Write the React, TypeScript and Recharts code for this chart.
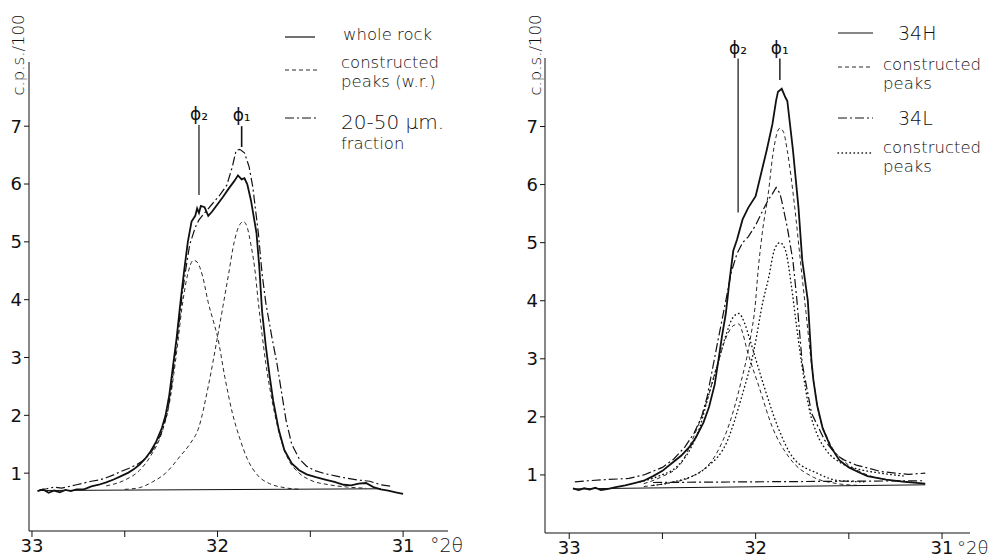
import { LineChart, Line, XAxis, YAxis, ReferenceLine } from 'recharts'

type Pt = [number, number]

// ---- left panel: whole rock / 20-50 µm fraction (°2θ, c.p.s./100)
const wholeRock: Pt[] = [
  [32.97, 0.69], [32.94, 0.72], [32.91, 0.66], [32.88, 0.7], [32.85, 0.67], [32.82, 0.71],
  [32.79, 0.69], [32.76, 0.72], [32.72, 0.72], [32.68, 0.77], [32.64, 0.8], [32.6, 0.84],
  [32.56, 0.89], [32.52, 0.95], [32.48, 1.01], [32.45, 1.07], [32.42, 1.15], [32.39, 1.25],
  [32.36, 1.38], [32.33, 1.55], [32.3, 1.78], [32.28, 2.0], [32.26, 2.35], [32.24, 2.85],
  [32.22, 3.35], [32.2, 3.95], [32.18, 4.5], [32.16, 5.0], [32.14, 5.35], [32.12, 5.45],
  [32.11, 5.58], [32.1, 5.5], [32.09, 5.62], [32.07, 5.6], [32.05, 5.45], [32.03, 5.52],
  [32.0, 5.65], [31.97, 5.78], [31.94, 5.92], [31.91, 6.05], [31.89, 6.15], [31.87, 6.08],
  [31.855, 6.1], [31.84, 6.0], [31.82, 5.72], [31.79, 5.15], [31.775, 4.57], [31.76, 3.8],
  [31.74, 3.2], [31.72, 2.7], [31.7, 2.25], [31.67, 1.75], [31.64, 1.4], [31.6, 1.17],
  [31.56, 1.05], [31.52, 0.98], [31.47, 0.93], [31.42, 0.89], [31.37, 0.85], [31.32, 0.8],
  [31.28, 0.79], [31.24, 0.82], [31.2, 0.83], [31.16, 0.76], [31.12, 0.72], [31.08, 0.7],
  [31.04, 0.67], [31.0, 0.64],
]
const fraction2050: Pt[] = [
  [32.96, 0.71], [32.92, 0.73], [32.88, 0.76], [32.84, 0.74], [32.8, 0.77], [32.76, 0.8],
  [32.72, 0.83], [32.68, 0.86], [32.64, 0.88], [32.6, 0.92], [32.56, 0.97], [32.52, 1.03],
  [32.48, 1.08], [32.44, 1.14], [32.4, 1.22], [32.36, 1.35], [32.33, 1.5], [32.3, 1.72],
  [32.27, 2.05], [32.25, 2.45], [32.23, 3.0], [32.21, 3.5], [32.19, 4.1], [32.17, 4.55],
  [32.15, 4.95], [32.12, 5.25], [32.1, 5.38], [32.07, 5.5], [32.03, 5.65], [31.99, 5.8],
  [31.95, 5.98], [31.92, 6.3], [31.9, 6.58], [31.88, 6.6], [31.855, 6.54], [31.83, 6.3],
  [31.81, 5.95], [31.78, 5.15], [31.76, 4.45], [31.74, 3.95], [31.71, 3.4], [31.68, 2.9],
  [31.65, 2.3], [31.63, 1.9], [31.6, 1.5], [31.56, 1.25], [31.52, 1.12], [31.48, 1.05],
  [31.42, 0.99], [31.36, 0.95], [31.3, 0.91], [31.24, 0.88], [31.18, 0.86], [31.12, 0.8],
  [31.06, 0.77],
]
const wrPhi2: Pt[] = [
  [32.6, 0.78], [32.5, 0.88], [32.42, 1.05], [32.36, 1.3], [32.3, 1.7], [32.26, 2.2],
  [32.22, 3.1], [32.19, 3.9], [32.16, 4.45], [32.13, 4.68], [32.11, 4.65], [32.08, 4.4],
  [32.05, 3.95], [32.02, 3.6], [32.0, 3.36], [31.96, 2.65], [31.92, 2.04], [31.88, 1.6],
  [31.84, 1.25], [31.78, 0.95], [31.72, 0.82], [31.64, 0.75], [31.55, 0.72],
]
const wrPhi1: Pt[] = [
  [32.5, 0.72], [32.42, 0.75], [32.35, 0.85], [32.28, 1.0], [32.2, 1.3], [32.15, 1.5],
  [32.1, 1.8], [32.05, 2.5], [32.0, 3.36], [31.97, 3.9], [31.94, 4.45], [31.91, 5.0],
  [31.88, 5.3], [31.86, 5.35], [31.84, 5.25], [31.82, 4.95], [31.8, 4.55], [31.78, 3.95],
  [31.76, 3.4], [31.74, 2.9], [31.72, 2.5], [31.69, 2.0], [31.66, 1.6], [31.62, 1.25],
  [31.56, 1.0], [31.5, 0.88], [31.4, 0.8], [31.3, 0.76], [31.2, 0.74],
]
const wrBase: Pt[] = [[32.97, 0.7], [31.12, 0.73]]

// ---- right panel: 34H / 34L
const s34H: Pt[] = [
  [32.98, 0.77], [32.95, 0.74], [32.92, 0.77], [32.89, 0.75], [32.86, 0.78], [32.83, 0.74],
  [32.79, 0.76], [32.75, 0.79], [32.7, 0.82], [32.65, 0.86], [32.6, 0.9], [32.55, 0.98],
  [32.5, 1.07], [32.45, 1.2], [32.4, 1.33], [32.35, 1.5], [32.32, 1.65], [32.28, 1.9],
  [32.25, 2.17], [32.22, 2.55], [32.2, 2.97], [32.18, 3.4], [32.16, 3.78], [32.14, 4.35],
  [32.12, 4.86], [32.1, 5.05], [32.07, 5.4], [32.04, 5.6], [32.0, 5.8], [31.97, 6.2],
  [31.94, 6.6], [31.91, 7.04], [31.89, 7.45], [31.88, 7.6], [31.86, 7.65], [31.84, 7.5],
  [31.83, 7.44], [31.8, 6.6], [31.77, 5.6], [31.75, 4.7], [31.72, 4.0], [31.7, 2.95],
  [31.69, 2.63], [31.67, 2.2], [31.64, 1.8], [31.6, 1.5], [31.55, 1.25], [31.5, 1.13],
  [31.45, 1.05], [31.4, 0.98], [31.3, 0.92], [31.2, 0.88], [31.09, 0.85],
]
const s34L: Pt[] = [
  [32.97, 0.88], [32.9, 0.9], [32.8, 0.92], [32.68, 0.94], [32.6, 1.0], [32.5, 1.13],
  [32.44, 1.27], [32.38, 1.48], [32.33, 1.72], [32.29, 2.0], [32.26, 2.35], [32.23, 2.85],
  [32.2, 3.35], [32.16, 4.0], [32.13, 4.5], [32.1, 4.81], [32.07, 5.0], [32.04, 5.1],
  [32.0, 5.3], [31.97, 5.5], [31.93, 5.75], [31.91, 5.84], [31.89, 5.95], [31.87, 5.85],
  [31.86, 5.72], [31.83, 5.26], [31.8, 4.69], [31.78, 4.06], [31.75, 2.92], [31.7, 2.06],
  [31.63, 1.6], [31.57, 1.35], [31.52, 1.25], [31.46, 1.17], [31.4, 1.12], [31.33, 1.06],
  [31.25, 1.03], [31.18, 1.01], [31.09, 1.03],
]
const h34Phi1: Pt[] = [
  [32.6, 0.8], [32.47, 0.86], [32.35, 0.96], [32.21, 1.37], [32.14, 1.89], [32.08, 2.58],
  [32.03, 3.32], [32.0, 4.0], [31.99, 4.4], [31.965, 5.15], [31.93, 5.9], [31.91, 6.46],
  [31.87, 6.97], [31.85, 6.9], [31.83, 6.58], [31.79, 5.6], [31.76, 4.69], [31.73, 3.8],
  [31.7, 2.9], [31.67, 2.2], [31.61, 1.6], [31.52, 1.22], [31.43, 1.04], [31.3, 0.92],
  [31.16, 0.88],
]
const h34Phi2: Pt[] = [
  [32.6, 0.85], [32.51, 0.96], [32.4, 1.2], [32.34, 1.6], [32.26, 2.29], [32.21, 2.85],
  [32.15, 3.43], [32.12, 3.57], [32.09, 3.6], [32.07, 3.45], [32.05, 3.2], [31.98, 2.5],
  [31.91, 1.82], [31.82, 1.3], [31.69, 0.96], [31.58, 0.86], [31.45, 0.82],
]
const l34Phi1: Pt[] = [
  [32.55, 0.82], [32.44, 0.88], [32.26, 1.14], [32.15, 1.6], [32.08, 2.29], [32.01, 3.14],
  [31.96, 4.0], [31.93, 4.4], [31.9, 4.87], [31.87, 5.0], [31.84, 4.87], [31.81, 4.3],
  [31.78, 3.55], [31.75, 2.85], [31.71, 2.1], [31.67, 1.7], [31.62, 1.42], [31.55, 1.22],
  [31.45, 1.1], [31.35, 1.04], [31.2, 0.98],
]
const l34Phi2: Pt[] = [
  [32.62, 0.88], [32.52, 0.98], [32.42, 1.15], [32.35, 1.45], [32.3, 1.82], [32.25, 2.4],
  [32.2, 2.95], [32.16, 3.4], [32.12, 3.72], [32.09, 3.78], [32.06, 3.62], [32.03, 3.32],
  [31.96, 2.58], [31.88, 1.82], [31.8, 1.3], [31.67, 1.03], [31.55, 0.9], [31.4, 0.88],
]
const base34H: Pt[] = [[32.98, 0.76], [31.09, 0.83]]
const base34L: Pt[] = [[32.55, 0.87], [31.1, 0.9]]

const xTicks = [33, 32.5, 32, 31.5, 31]
const yTicks = [1, 2, 3, 4, 5, 6, 7]

const INK = '#111'
const FONT = '"DejaVu Sans", sans-serif'
const SOLID = { stroke: INK, strokeWidth: 1.8 }
const DASH = { stroke: INK, strokeWidth: 0.9, strokeDasharray: '4 3' }
const DASHDOT = { stroke: INK, strokeWidth: 1.2, strokeDasharray: '9 3 2 3' }
const DOTTED = { stroke: INK, strokeWidth: 1.4, strokeDasharray: '0.5 3.5', strokeLinecap: 'round' as const }
const THIN = { stroke: INK, strokeWidth: 1 }

const pts = (a: Pt[]) => a.map(([x, y]) => ({ x, y }))
const xFmt = (v: number) => (Number.isInteger(v) ? String(v) : '')
const tickStyle = { fontSize: 18, fill: INK, fontFamily: FONT }

function phiLabel(sub: string) {
  return { value: 'ϕ' + sub, position: 'top' as const, offset: 5, fill: INK, fontSize: 17, fontFamily: FONT }
}

function line(data: Pt[], style: any, key: string, type: 'linear' | 'monotone' = 'linear') {
  return (
    <Line key={key} data={pts(data)} dataKey="y" type={type} dot={false} activeDot={false}
      isAnimationActive={false} {...style} />
  )
}

export default function App() {
  return (
    <div style={{ position: 'absolute', left: 0, top: 0, width: 990, height: 559, background: '#fff', fontFamily: FONT }}>
      <div style={{ position: 'absolute', left: 0, top: 0 }}>
        <LineChart width={460} height={559} margin={{ top: 62, right: 12, bottom: 0, left: 0 }}>
          <XAxis dataKey="x" type="number" domain={[30.758, 33.016]} reversed allowDataOverflow
            ticks={xTicks} tickFormatter={xFmt} height={28} tickSize={6} stroke={INK}
            tick={tickStyle} interval={0} />
          <YAxis type="number" domain={[0, 8.11]} allowDataOverflow ticks={yTicks} width={29}
            tickSize={5} stroke={INK} tick={tickStyle} interval={0} />
          {line(wrBase, THIN, 'base')}
          {line(wrPhi2, DASH, 'p2', 'monotone')}
          {line(wrPhi1, DASH, 'p1', 'monotone')}
          {line(fraction2050, DASHDOT, 'frac')}
          {line(wholeRock, SOLID, 'wr')}
          <ReferenceLine segment={[{ x: 32.1, y: 7.02 }, { x: 32.1, y: 5.81 }]} stroke={INK}
            strokeWidth={1.2} label={phiLabel('₂')} />
          <ReferenceLine segment={[{ x: 31.87, y: 7.0 }, { x: 31.87, y: 6.64 }]} stroke={INK}
            strokeWidth={1.6} label={phiLabel('₁')} />
        </LineChart>
      </div>
      <div style={{ position: 'absolute', left: 500, top: 0 }}>
        <LineChart width={490} height={559} margin={{ top: 58, right: 20, bottom: 0, left: 0 }}>
          <XAxis dataKey="x" type="number" domain={[30.85, 33.13]} reversed allowDataOverflow
            ticks={xTicks} tickFormatter={xFmt} height={26} tickSize={6} stroke={INK}
            tick={tickStyle} interval={0} />
          <YAxis type="number" domain={[0, 8.18]} allowDataOverflow ticks={yTicks} width={45}
            tickSize={5} stroke={INK} tick={tickStyle} interval={0} />
          {line(base34H, THIN, 'bH')}
          {line(base34L, DASHDOT, 'bL')}
          {line(h34Phi2, DASH, 'hp2', 'monotone')}
          {line(h34Phi1, DASH, 'hp1', 'monotone')}
          {line(l34Phi2, DOTTED, 'lp2', 'monotone')}
          {line(l34Phi1, DOTTED, 'lp1', 'monotone')}
          {line(s34L, DASHDOT, 'l')}
          {line(s34H, SOLID, 'h')}
          <ReferenceLine segment={[{ x: 32.094, y: 8.17 }, { x: 32.094, y: 5.52 }]} stroke={INK}
            strokeWidth={1.2} label={phiLabel('₂')} ifOverflow="visible" />
          <ReferenceLine segment={[{ x: 31.87, y: 8.17 }, { x: 31.87, y: 7.8 }]} stroke={INK}
            strokeWidth={1.4} label={phiLabel('₁')} ifOverflow="visible" />
        </LineChart>
      </div>
      <svg width={990} height={559} style={{ position: 'absolute', left: 0, top: 0, pointerEvents: 'none' }}
        fontFamily={FONT} fill={INK} fontWeight={300}>
        {/* axis titles */}
        <text transform="translate(24,55) rotate(-90)" textAnchor="middle" fontSize={16.5}>c.p.s./100</text>
        <text transform="translate(541,55) rotate(-90)" textAnchor="middle" fontSize={16.5}>c.p.s./100</text>
        <text x={430} y={552} fontSize={19}>°2θ</text>
        <text x={957} y={554} fontSize={18}>°2θ</text>
        {/* left legend */}
        <line x1={285} x2={315} y1={37} y2={37} {...SOLID} strokeWidth={1.2} />
        <text x={343} y={40} fontSize={16.5}>whole rock</text>
        <line x1={285} x2={318} y1={70} y2={70} {...DASH} />
        <text x={341} y={68} fontSize={16.5}>constructed</text>
        <text x={341} y={87} fontSize={16.5}>peaks (w.r.)</text>
        <line x1={285} x2={318} y1={118} y2={118} {...DASHDOT} />
        <text x={341} y={129} fontSize={20}>20-50 µm.</text>
        <text x={341} y={149} fontSize={16.5}>fraction</text>
        {/* right legend */}
        <line x1={838} x2={873} y1={33} y2={33} {...SOLID} strokeWidth={1.2} />
        <text x={898} y={40} fontSize={19}>34H</text>
        <line x1={838} x2={873} y1={67} y2={67} {...DASH} />
        <text x={883} y={70} fontSize={16.5}>constructed</text>
        <text x={883} y={89} fontSize={16.5}>peaks</text>
        <line x1={838} x2={873} y1={118} y2={118} {...DASHDOT} />
        <text x={898} y={125} fontSize={19}>34L</text>
        <line x1={838} x2={873} y1={153} y2={153} {...DOTTED} />
        <text x={883} y={153} fontSize={16.5}>constructed</text>
        <text x={883} y={172} fontSize={16.5}>peaks</text>
      </svg>
    </div>
  )
}
